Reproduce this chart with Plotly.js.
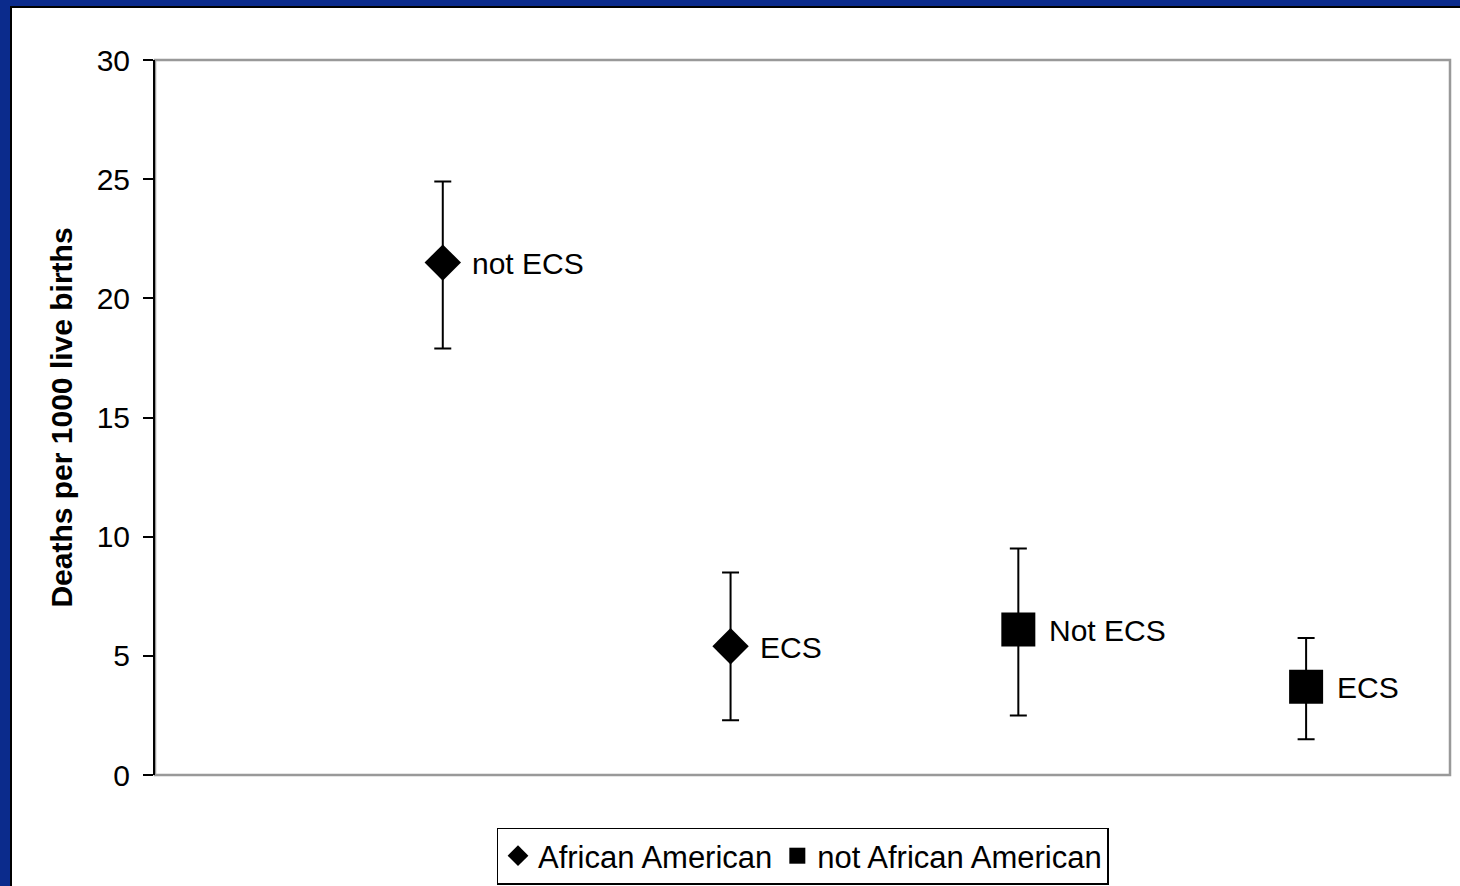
<!DOCTYPE html>
<html>
<head>
<meta charset="utf-8">
<script src="https://cdn.plot.ly/plotly-3.0.1.min.js"></script>
<style>
  html, body { margin: 0; padding: 0; width: 1460px; height: 886px; overflow: hidden; background: #0B2B8C; }
  #frame { position: absolute; left: 10px; top: 6px; width: 1450px; height: 880px; background: #000; overflow: hidden; }
  #chart { position: absolute; left: 2px; top: 2px; width: 1448px; height: 910px; background: #fff; }
</style>
</head>
<body>
<div id="frame"><div id="chart"></div></div>
<script>
// Data
const seriesNames = ["African American", "not African American"];
const aaX = [1, 2];
const aaValues = [21.5, 5.4];
const aaUpper = [24.9, 8.5];
const aaLower = [17.9, 2.3];
const aaLabels = ["not ECS", "ECS"];

const naaX = [3, 4];
const naaValues = [6.1, 3.7];
const naaUpper = [9.5, 5.75];
const naaLower = [2.5, 1.5];
const naaLabels = ["Not ECS", "ECS"];

const yTitle = "Deaths per 1000 live births";

const FONT = "Liberation Sans, Arial, sans-serif";
const FS = 30;

function diff(a, b) { return a.map((v, i) => +(v - b[i]).toFixed(3)); }

const traces = [
  {
    type: "scatter", mode: "markers", name: seriesNames[0],
    x: aaX, y: aaValues,
    marker: { symbol: "diamond", size: 28, color: "#000" },
    error_y: { type: "data", symmetric: false, array: diff(aaUpper, aaValues), arrayminus: diff(aaValues, aaLower),
               color: "#000", thickness: 2, width: 8.5 },
    hoverinfo: "skip", cliponaxis: false
  },
  {
    type: "scatter", mode: "markers", name: seriesNames[1],
    x: naaX, y: naaValues,
    marker: { symbol: "square", size: 34, color: "#000" },
    error_y: { type: "data", symmetric: false, array: diff(naaUpper, naaValues), arrayminus: diff(naaValues, naaLower),
               color: "#000", thickness: 2, width: 8.5 },
    hoverinfo: "skip", cliponaxis: false
  }
];

const annotations = [];
aaX.forEach((x, i) => annotations.push({
  x: x, y: aaValues[i], xref: "x", yref: "y", text: aaLabels[i], showarrow: false,
  xanchor: "left", yanchor: "middle", xshift: 27, yshift: -1,
  font: { family: FONT, size: FS, color: "#000" }
}));
naaX.forEach((x, i) => annotations.push({
  x: x, y: naaValues[i], xref: "x", yref: "y", text: naaLabels[i], showarrow: false,
  xanchor: "left", yanchor: "middle", xshift: 29, yshift: -1,
  font: { family: FONT, size: FS, color: "#000" }
}));

const layout = {
  width: 1448, height: 910,
  margin: { l: 143, r: 10, t: 52, b: 143 },
  paper_bgcolor: "#fff", plot_bgcolor: "#fff",
  font: { family: FONT, size: FS, color: "#000" },
  showlegend: true,
  legend: {
    orientation: "h", x: 0.5, xanchor: "center", y: -0.0735, yanchor: "top",
    bordercolor: "#000", borderwidth: 1.5, bgcolor: "#fff",
    font: { family: FONT, size: 31, color: "#000" },
    traceorder: "normal", itemclick: false, itemdoubleclick: false
  },
  xaxis: {
    range: [0, 4.5], showticklabels: false, ticks: "", showgrid: false, zeroline: false,
    showline: false, fixedrange: true
  },
  yaxis: {
    range: [0, 30], dtick: 5, tick0: 0, showgrid: false, zeroline: false,
    showline: true, linecolor: "#000", linewidth: 2,
    ticks: "outside", ticklen: 10, tickwidth: 2, tickcolor: "#000",
    ticklabelstandoff: 7,
    tickfont: { family: FONT, size: FS, color: "#000" },
    title: { text: "<b>" + yTitle + "</b>", font: { family: FONT, size: 30, color: "#000" }, standoff: 15 },
    fixedrange: true
  },
  annotations: annotations,
  shapes: [
    { type: "rect", xref: "paper", yref: "paper", x0: 0, x1: 1, y0: 0, y1: 1,
      line: { color: "#999999", width: 2.5 }, layer: "below" }
  ]
};

Plotly.newPlot("chart", traces, layout, { displayModeBar: false, staticPlot: true });
</script>
</body>
</html>
